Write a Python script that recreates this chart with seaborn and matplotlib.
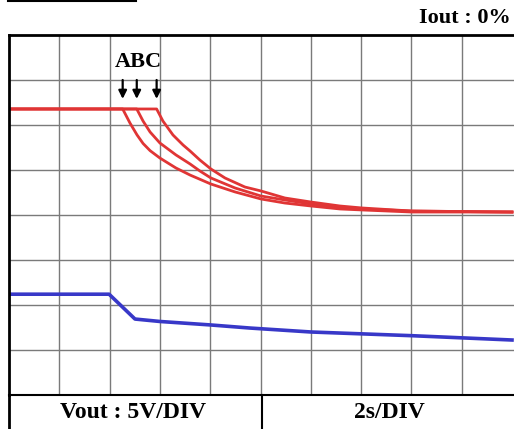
import numpy as np
import pandas as pd
import matplotlib
matplotlib.use("Agg")
import matplotlib.pyplot as plt
from matplotlib.lines import Line2D
import seaborn as sns

# ---- data (time in s, voltage in V; 2 s/DIV, 5 V/DIV) ----
t_A = [0.0, 4.52, 4.81, 5.09, 5.33, 5.61, 6.00, 6.64, 7.20, 8.03, 8.99, 10.02, 10.97, 12.01, 13.16, 14.04, 16.02, 20.0]
v_A = [31.78, 31.78, 30.22, 28.9, 27.95, 27.15, 26.33, 25.22, 24.44, 23.44, 22.56, 21.78, 21.33, 21.0, 20.67, 20.56, 20.33, 20.33]

t_B = [0.0, 5.08, 5.33, 5.61, 6.00, 6.64, 7.20, 7.59, 8.03, 8.99, 10.02, 10.97, 12.01, 13.16, 14.04, 16.02, 20.0]
v_B = [31.78, 31.78, 30.44, 29.22, 28.0, 26.67, 25.67, 24.89, 24.11, 23.0, 22.11, 21.67, 21.22, 20.89, 20.67, 20.44, 20.33]

t_C = [0.0, 5.87, 6.12, 6.52, 6.92, 7.20, 7.59, 8.03, 8.59, 9.38, 10.02, 10.97, 12.01, 13.16, 14.04, 16.02, 20.0]
v_C = [31.78, 31.78, 30.44, 28.89, 27.78, 27.11, 26.11, 25.11, 24.11, 23.11, 22.67, 21.89, 21.44, 21.0, 20.78, 20.44, 20.33]

t_blue = [0.0, 3.98, 5.01, 6.00, 8.03, 9.58, 12.01, 16.02, 20.0]
v_blue = [11.2, 11.2, 8.44, 8.17, 7.78, 7.44, 7.00, 6.59, 6.11]

curve_labels = ["A", "B", "C"]
x_ticks = [2, 4, 6, 8, 10, 12, 14, 16, 18]
y_ticks = [5, 10, 15, 20, 25, 30, 35]

# ---- build tidy frame ----
red = pd.concat([
    pd.DataFrame({"t": t_A, "v": v_A, "curve": "A"}),
    pd.DataFrame({"t": t_B, "v": v_B, "curve": "B"}),
    pd.DataFrame({"t": t_C, "v": v_C, "curve": "C"}),
])
blue = pd.DataFrame({"t": t_blue, "v": v_blue})

W, H = 514, 429
fig = plt.figure(figsize=(W / 100, H / 100), dpi=100)
fig.patch.set_facecolor("white")
ax_left, ax_right, ax_top, ax_bot = 9, 514, 35, 395
ax = fig.add_axes([ax_left / W, (H - ax_bot) / H, (ax_right - ax_left) / W, (ax_bot - ax_top) / H])

div_px = 50.3
ax.set_xlim(0, (ax_right - ax_left) / div_px * 2)
ax.set_ylim(0, 40)

sns.lineplot(data=red, x="t", y="v", units="curve", estimator=None,
             color="#e03535", lw=2.0, ax=ax, sort=False)
sns.lineplot(data=blue, x="t", y="v", estimator=None,
             color="#3838c8", lw=2.6, ax=ax, sort=False)

ax.set_xticks(x_ticks)
ax.set_yticks(y_ticks)
ax.grid(True, color="#7a7a7a", lw=1.0)
ax.set_axisbelow(True)
ax.tick_params(length=0, labelbottom=False, labelleft=False)
ax.set_xlabel("")
ax.set_ylabel("")
ax.spines["right"].set_visible(False)
ax.spines["left"].set_linewidth(2.0)
ax.spines["top"].set_linewidth(2.0)
ax.spines["bottom"].set_linewidth(1.5)
for s in ["left", "top", "bottom"]:
    ax.spines[s].set_color("black")

# arrows and ABC label
starts = [t_A[1], t_B[1], t_C[1]]
for tx in starts:
    ax.annotate("", xy=(tx, 32.9), xytext=(tx, 35.0),
                arrowprops=dict(arrowstyle="-|>", color="black", lw=1.6,
                                mutation_scale=12, shrinkA=0, shrinkB=0))
ax.text(np.mean(starts), 37.0, "".join(curve_labels), ha="center", va="center",
        fontsize=16, family="Liberation Serif", fontweight="bold")

# header text and top-left rule
fig.text(511 / W, 1 - 18 / H, "Iout : 0%", ha="right", va="center",
         fontsize=16, family="Liberation Serif", fontweight="bold")
fig.add_artist(Line2D([8 / W, 136 / W], [1 - 1.2 / H, 1 - 1.2 / H],
                      transform=fig.transFigure, color="black", lw=1.5))

# bottom info box
fig.add_artist(Line2D([ax_left / W, ax_left / W], [0, (H - ax_bot) / H],
                      transform=fig.transFigure, color="black", lw=2.0))
fig.add_artist(Line2D([262 / W, 262 / W], [0, (H - ax_bot) / H],
                      transform=fig.transFigure, color="black", lw=1.5))
fig.text(133 / W, 1 - 413 / H, "Vout : 5V/DIV", ha="center", va="center",
         fontsize=17, family="Liberation Serif", fontweight="bold")
fig.text(389 / W, 1 - 413 / H, "2s/DIV", ha="center", va="center",
         fontsize=17, family="Liberation Serif", fontweight="bold")

fig.savefig("out.png", dpi=100, facecolor="white")
